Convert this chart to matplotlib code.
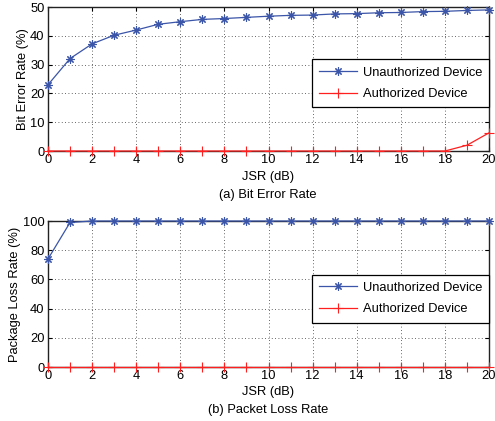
import numpy as np
import matplotlib
matplotlib.use("Agg")
import matplotlib.pyplot as plt

plt.rcParams['font.family'] = ['Liberation Sans', 'DejaVu Sans']

jsr = list(range(0, 21))
ber_unauth = [23.0, 32.1, 37.2, 40.2, 42.0, 44.0, 44.9, 45.7, 46.0, 46.4, 46.8,
              47.1, 47.2, 47.6, 47.7, 48.0, 48.1, 48.4, 48.5, 48.8, 49.0]
ber_auth = [0] * 19 + [2.0, 6.3]
plr_unauth = [74.0, 99.0] + [100.0] * 19
plr_auth = [0.0] * 21

BLUE = "#3b55a8"
RED = "#ff1f1f"
W, H = 495, 421
FS = 9.3


def setup(ax, ymax, yticks, ylabel):
    ax.set_xlim(0, 20)
    ax.set_ylim(0, ymax)
    ax.set_xticks(range(0, 21, 2))
    ax.set_yticks(yticks)
    ax.tick_params(direction="in", top=True, right=True, labelsize=FS, length=3, pad=2.5)
    ax.grid(True, ls=(0, (1, 3)), color="black", lw=0.6, alpha=0.8)
    ax.set_ylabel(ylabel, fontsize=FS, labelpad=1)
    for s in ax.spines.values():
        s.set_linewidth(1.0)
        s.set_color("#222222")


def draw(ax, u, a):
    ax.plot(jsr, u, "-", marker=(8, 2, 0), color=BLUE, lw=0.9, ms=6, mew=0.8,
            label="Unauthorized Device", clip_on=False, zorder=3)
    ax.plot(jsr, a, "-+", color=RED, lw=0.9, ms=7, mew=0.8,
            label="Authorized Device", clip_on=False, zorder=3)


def legend(ax, ymid):
    leg = ax.legend(loc="center right", bbox_to_anchor=(1.0, ymid), borderaxespad=0,
                    fontsize=FS, fancybox=False, edgecolor="black", framealpha=1,
                    handlelength=2.95, borderpad=0.55, labelspacing=0.75, handletextpad=0.4)
    leg.get_frame().set_linewidth(0.9)


fig = plt.figure(figsize=(W / 100, H / 100), dpi=100)

ax1 = fig.add_axes([48 / W, (H - 151) / H, 441 / W, 144 / H])
draw(ax1, ber_unauth, ber_auth)
setup(ax1, 50, range(0, 51, 10), "Bit Error Rate (%)")
legend(ax1, 0.469)
fig.text(268 / W, 1 - 177 / H, "JSR (dB)", ha="center", va="center", fontsize=FS)
fig.text(268 / W, 1 - 195 / H, "(a) Bit Error Rate", ha="center", va="center", fontsize=FS)

ax2 = fig.add_axes([48 / W, (H - 367) / H, 441 / W, 146 / H])
draw(ax2, plr_unauth, plr_auth)
setup(ax2, 100, range(0, 101, 20), "Package Loss Rate (%)")
legend(ax2, 0.469)
fig.text(268 / W, 1 - 392 / H, "JSR (dB)", ha="center", va="center", fontsize=FS)
fig.text(268 / W, 1 - 410 / H, "(b) Packet Loss Rate", ha="center", va="center", fontsize=FS)

fig.savefig("out.png", dpi=100)
